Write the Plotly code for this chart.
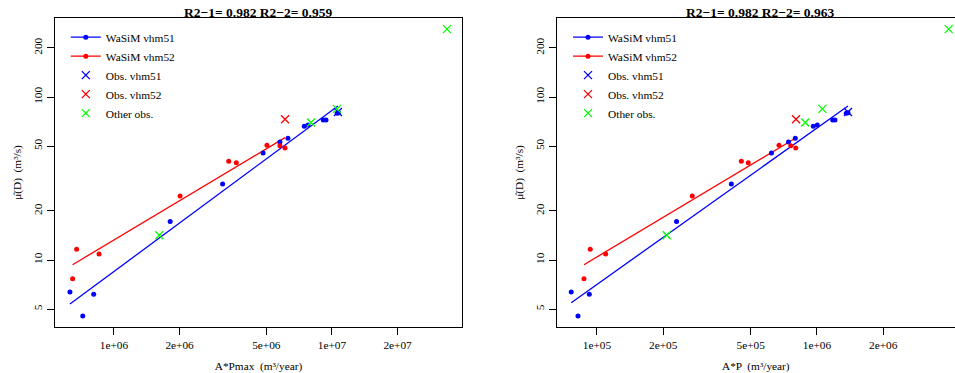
import plotly.graph_objects as go

# ---------------- data ----------------
# WaSiM vhm51 simulated stations
mu51 = [6.36, 4.53, 6.16, 17.2, 29.3, 45.3, 53.0, 55.8, 66.1, 67.3, 72.3, 72.3, 79.4, 80.1]
apmax51 = [6.28e5, 7.19e5, 8.07e5, 1.81e6, 3.15e6, 4.83e6, 5.77e6, 6.28e6, 7.46e6, 7.76e6,
           9.12e6, 9.39e6, 1.057e7, 1.071e7]
ap51 = [7.64e4, 8.20e4, 9.23e4, 2.30e5, 4.08e5, 6.21e5, 7.42e5, 7.97e5, 9.62e5, 1.003e6,
        1.179e6, 1.207e6, 1.359e6, 1.383e6]

# WaSiM vhm52 simulated stations
mu52 = [7.68, 11.63, 10.88, 24.7, 40.3, 39.5, 50.5, 50.3, 48.7]
apmax52 = [6.46e5, 6.74e5, 8.54e5, 2.01e6, 3.36e6, 3.64e6, 5.03e6, 5.77e6, 6.09e6]
ap52 = [8.73e4, 9.32e4, 1.095e5, 2.71e5, 4.53e5, 4.87e5, 6.72e5, 7.60e5, 8.01e5]

# observations
obs51_mu = [80.9]
obs51_apmax = [1.065e7]
obs51_ap = [1.383e6]

obs52_mu = [73.0]
obs52_apmax = [6.09e6]
obs52_ap = [8.03e5]

other_mu = [14.2, 69.8, 84.6, 261.0]
other_apmax = [1.613e6, 8.01e6, 1.054e7, 3.37e7]
other_ap = [2.074e5, 8.84e5, 1.058e6, 3.97e6]

# regression lines (end points)
fit51_apmax = [6.28e5, 1.065e7]
fit51_mu_l = [5.37, 88.1]
fit51_ap = [7.64e4, 1.383e6]
fit51_mu_r = [5.47, 88.1]

fit52_apmax = [6.46e5, 6.09e6]
fit52_mu_l = [9.36, 56.3]
fit52_ap = [8.73e4, 8.01e5]
fit52_mu_r = [9.36, 56.0]

titles = ["R2\u22121= 0.982 R2\u22122= 0.959", "R2\u22121= 0.982 R2\u22122= 0.963"]
xtitles = ["A*Pmax  (m\u00b3/year)", "A*P  (m\u00b3/year)"]
ytitle = "\u03bc\u0302(D)  (m\u00b3/s)"
ytick_vals = [5, 10, 20, 50, 100, 200]
xtick_vals_l = [1e6, 2e6, 5e6, 1e7, 2e7]
xtick_text_l = ["1e+06", "2e+06", "5e+06", "1e+07", "2e+07"]
xtick_vals_r = [1e5, 2e5, 5e5, 1e6, 2e6]
xtick_text_r = ["1e+05", "2e+05", "5e+05", "1e+06", "2e+06"]

BLUE, RED, GREEN = "#0000FF", "#FF0000", "#00FF00"
FONT = "Liberation Serif"

fig = go.Figure()

panels = [
    dict(xa="x", ya="y", leg="legend", x51=apmax51, x52=apmax52, o51=obs51_apmax, o52=obs52_apmax,
         oth=other_apmax, f51x=fit51_apmax, f51y=fit51_mu_l, f52x=fit52_apmax, f52y=fit52_mu_l),
    dict(xa="x2", ya="y2", leg="legend2", x51=ap51, x52=ap52, o51=obs51_ap, o52=obs52_ap,
         oth=other_ap, f51x=fit51_ap, f51y=fit51_mu_r, f52x=fit52_ap, f52y=fit52_mu_r),
]

for p in panels:
    common = dict(xaxis=p["xa"], yaxis=p["ya"])
    # regression lines
    fig.add_trace(go.Scatter(x=p["f51x"], y=p["f51y"], mode="lines", line=dict(color=BLUE, width=1.3),
                             showlegend=False, hoverinfo="skip", **common))
    fig.add_trace(go.Scatter(x=p["f52x"], y=p["f52y"], mode="lines", line=dict(color=RED, width=1.3),
                             showlegend=False, hoverinfo="skip", **common))
    # simulated points
    fig.add_trace(go.Scatter(x=p["x51"], y=mu51, mode="markers", marker=dict(color=BLUE, size=5),
                             showlegend=False, **common))
    fig.add_trace(go.Scatter(x=p["x52"], y=mu52, mode="markers", marker=dict(color=RED, size=5),
                             showlegend=False, **common))
    # observations
    xm = dict(symbol="x-thin", size=8)
    fig.add_trace(go.Scatter(x=p["o51"], y=obs51_mu, mode="markers",
                             marker=dict(**xm, line=dict(color=BLUE, width=1.3)),
                             showlegend=False, **common))
    fig.add_trace(go.Scatter(x=p["o52"], y=obs52_mu, mode="markers",
                             marker=dict(**xm, line=dict(color=RED, width=1.3)),
                             showlegend=False, **common))
    fig.add_trace(go.Scatter(x=p["oth"], y=other_mu, mode="markers",
                             marker=dict(**xm, line=dict(color=GREEN, width=1.3)),
                             showlegend=False, **common))
    # legend entries
    fig.add_trace(go.Scatter(x=[None], y=[None], mode="lines+markers", name="WaSiM vhm51",
                             line=dict(color=BLUE, width=1.3), marker=dict(color=BLUE, size=5),
                             legend=p["leg"], **common))
    fig.add_trace(go.Scatter(x=[None], y=[None], mode="lines+markers", name="WaSiM vhm52",
                             line=dict(color=RED, width=1.3), marker=dict(color=RED, size=5),
                             legend=p["leg"], **common))
    for nm, col in [("Obs. vhm51", BLUE), ("Obs. vhm52", RED), ("Other obs.", GREEN)]:
        fig.add_trace(go.Scatter(x=[None], y=[None], mode="markers", name=nm,
                                 marker=dict(symbol="x-thin", size=8, line=dict(color=col, width=1.3)),
                                 legend=p["leg"], **common))

axis_common = dict(type="log", showline=True, linecolor="black", linewidth=1, ticks="outside",
                   ticklen=7, tickcolor="black", tickwidth=1, showgrid=False, zeroline=False,
                   automargin=False,
                   tickfont=dict(family=FONT, size=11.3, color="black"))

fig.update_layout(
    width=955, height=373,
    margin=dict(l=55, r=0, t=18, b=46, autoexpand=False),
    paper_bgcolor="white", plot_bgcolor="white",
    font=dict(family=FONT, size=11.3, color="black"),
    xaxis=dict(**axis_common, domain=[0, 0.4522], range=[5.7294, 7.5963], mirror=True,
               tickvals=xtick_vals_l, ticktext=xtick_text_l,
               title=dict(text=xtitles[0], font=dict(family=FONT, size=11.3))),
    yaxis=dict(**axis_common, domain=[0, 1], range=[0.589, 2.4847], mirror=True,
               tickvals=ytick_vals, ticktext=[str(v) for v in ytick_vals], tickangle=-90,
               title=dict(text=ytitle, standoff=8, font=dict(family=FONT, size=11.3))),
    xaxis2=dict(**axis_common, domain=[0.5574, 1.0], range=[4.8168, 6.6273], mirror=True,
                anchor="y2", tickvals=xtick_vals_r, ticktext=xtick_text_r,
                title=dict(text=xtitles[1], font=dict(family=FONT, size=11.3))),
    yaxis2=dict(**axis_common, domain=[0, 1], range=[0.589, 2.4847], mirror=False, anchor="x2",
                tickvals=ytick_vals, ticktext=[str(v) for v in ytick_vals], tickangle=-90,
                title=dict(text=ytitle, standoff=8, font=dict(family=FONT, size=11.3))),
    legend=dict(x=0.012, y=0.985, xanchor="left", yanchor="top", bgcolor="rgba(0,0,0,0)",
                borderwidth=0, font=dict(family=FONT, size=11.4, color="black"), tracegroupgap=0),
    legend2=dict(x=0.570, y=0.985, xanchor="left", yanchor="top", bgcolor="rgba(0,0,0,0)",
                 borderwidth=0, font=dict(family=FONT, size=11.4, color="black"), tracegroupgap=0),
    annotations=[
        dict(text="<b>" + titles[0] + "</b>", xref="paper", yref="paper", x=0.2261, y=1.0194,
             xanchor="center", yanchor="middle", showarrow=False,
             font=dict(family=FONT, size=13.5, color="black")),
        dict(text="<b>" + titles[1] + "</b>", xref="paper", yref="paper", x=0.7833, y=1.0194,
             xanchor="center", yanchor="middle", showarrow=False,
             font=dict(family=FONT, size=13.5, color="black")),
    ],
)

# remove the default 8 px page margin so the 955x373 figure fills the window exactly
fig.write_html("out.html", config={"displayModeBar": False},
               post_script="document.body.style.margin='0px';")
